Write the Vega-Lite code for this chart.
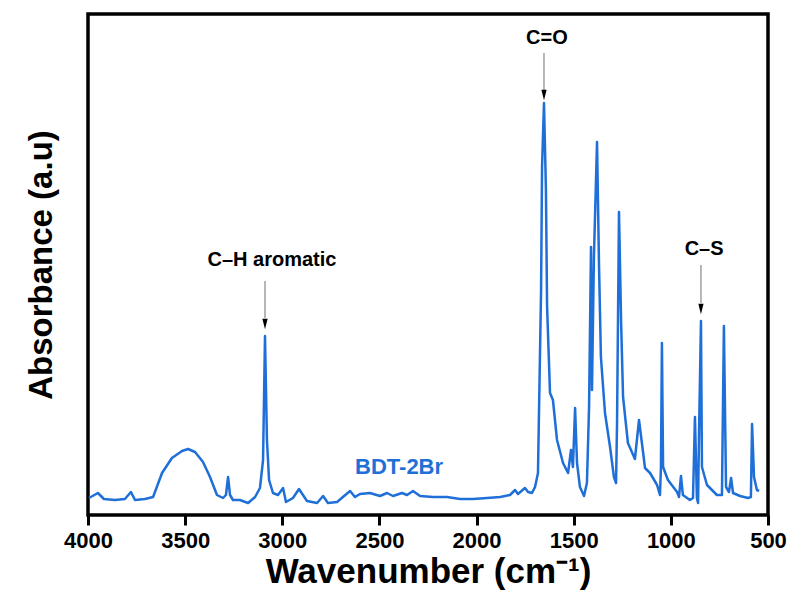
{
  "$schema": "https://vega.github.io/schema/vega-lite/v6.json",
  "autosize": {"type": "none"},
  "padding": {"left": 88, "top": 14, "right": 26, "bottom": 88},
  "width": 680,
  "height": 501,
  "background": "white",
  "config": {
    "view": {"stroke": "black", "strokeWidth": 3.5},
    "font": "Liberation Sans",
    "axisX": {"ticks": true, "tickSize": 10, "tickWidth": 3, "tickColor": "black", "domain": false, "grid": false},
    "axisY": {"ticks": false, "labels": false, "domain": false, "grid": false}
  },
  "datasets": {
    "spectrum": [
      {"wn": 3995, "ab": 17}, {"wn": 3949, "ab": 22}, {"wn": 3918, "ab": 16}, {"wn": 3861, "ab": 15},
      {"wn": 3810, "ab": 16}, {"wn": 3779, "ab": 23}, {"wn": 3758, "ab": 15}, {"wn": 3707, "ab": 16},
      {"wn": 3665, "ab": 18}, {"wn": 3619, "ab": 42}, {"wn": 3568, "ab": 57}, {"wn": 3516, "ab": 64},
      {"wn": 3485, "ab": 66}, {"wn": 3449, "ab": 63}, {"wn": 3408, "ab": 53}, {"wn": 3372, "ab": 38},
      {"wn": 3336, "ab": 20}, {"wn": 3305, "ab": 17}, {"wn": 3290, "ab": 20}, {"wn": 3279, "ab": 38},
      {"wn": 3269, "ab": 20}, {"wn": 3254, "ab": 15}, {"wn": 3218, "ab": 15}, {"wn": 3176, "ab": 12},
      {"wn": 3140, "ab": 18}, {"wn": 3115, "ab": 27}, {"wn": 3099, "ab": 55}, {"wn": 3089, "ab": 179},
      {"wn": 3079, "ab": 75}, {"wn": 3068, "ab": 35}, {"wn": 3048, "ab": 22}, {"wn": 3022, "ab": 20},
      {"wn": 2996, "ab": 27}, {"wn": 2981, "ab": 13}, {"wn": 2945, "ab": 17}, {"wn": 2914, "ab": 26},
      {"wn": 2873, "ab": 14}, {"wn": 2821, "ab": 12}, {"wn": 2790, "ab": 19}, {"wn": 2765, "ab": 12},
      {"wn": 2718, "ab": 13}, {"wn": 2688, "ab": 18}, {"wn": 2651, "ab": 24}, {"wn": 2626, "ab": 18},
      {"wn": 2600, "ab": 21}, {"wn": 2549, "ab": 22}, {"wn": 2497, "ab": 19}, {"wn": 2461, "ab": 22},
      {"wn": 2430, "ab": 19}, {"wn": 2384, "ab": 22}, {"wn": 2358, "ab": 20}, {"wn": 2327, "ab": 24},
      {"wn": 2291, "ab": 19}, {"wn": 2224, "ab": 18}, {"wn": 2152, "ab": 18}, {"wn": 2085, "ab": 16},
      {"wn": 2018, "ab": 16}, {"wn": 1946, "ab": 17}, {"wn": 1879, "ab": 18}, {"wn": 1828, "ab": 20},
      {"wn": 1802, "ab": 25}, {"wn": 1787, "ab": 21}, {"wn": 1751, "ab": 27}, {"wn": 1735, "ab": 23},
      {"wn": 1715, "ab": 22}, {"wn": 1699, "ab": 28}, {"wn": 1684, "ab": 42}, {"wn": 1668, "ab": 225},
      {"wn": 1663, "ab": 348}, {"wn": 1653, "ab": 412}, {"wn": 1643, "ab": 325}, {"wn": 1637, "ab": 208},
      {"wn": 1622, "ab": 122}, {"wn": 1607, "ab": 115}, {"wn": 1586, "ab": 75}, {"wn": 1555, "ab": 52},
      {"wn": 1529, "ab": 42}, {"wn": 1514, "ab": 65}, {"wn": 1504, "ab": 48}, {"wn": 1493, "ab": 107},
      {"wn": 1483, "ab": 52}, {"wn": 1468, "ab": 28}, {"wn": 1447, "ab": 19}, {"wn": 1432, "ab": 32},
      {"wn": 1421, "ab": 108}, {"wn": 1411, "ab": 268}, {"wn": 1406, "ab": 125}, {"wn": 1396, "ab": 258},
      {"wn": 1380, "ab": 373}, {"wn": 1370, "ab": 252}, {"wn": 1360, "ab": 158}, {"wn": 1339, "ab": 102},
      {"wn": 1313, "ab": 68}, {"wn": 1293, "ab": 38}, {"wn": 1282, "ab": 32}, {"wn": 1277, "ab": 92},
      {"wn": 1267, "ab": 303}, {"wn": 1256, "ab": 192}, {"wn": 1246, "ab": 118}, {"wn": 1221, "ab": 72},
      {"wn": 1185, "ab": 56}, {"wn": 1164, "ab": 95}, {"wn": 1149, "ab": 72}, {"wn": 1133, "ab": 47},
      {"wn": 1107, "ab": 42}, {"wn": 1071, "ab": 30}, {"wn": 1056, "ab": 20}, {"wn": 1051, "ab": 48},
      {"wn": 1046, "ab": 172}, {"wn": 1040, "ab": 48}, {"wn": 1015, "ab": 35}, {"wn": 968, "ab": 23},
      {"wn": 958, "ab": 18}, {"wn": 948, "ab": 39}, {"wn": 938, "ab": 20}, {"wn": 902, "ab": 15},
      {"wn": 886, "ab": 17}, {"wn": 876, "ab": 98}, {"wn": 866, "ab": 17}, {"wn": 860, "ab": 12},
      {"wn": 855, "ab": 82}, {"wn": 845, "ab": 194}, {"wn": 840, "ab": 48}, {"wn": 814, "ab": 30},
      {"wn": 763, "ab": 20}, {"wn": 737, "ab": 20}, {"wn": 727, "ab": 189}, {"wn": 716, "ab": 28},
      {"wn": 701, "ab": 23}, {"wn": 690, "ab": 37}, {"wn": 680, "ab": 22}, {"wn": 644, "ab": 19},
      {"wn": 603, "ab": 17}, {"wn": 588, "ab": 18}, {"wn": 582, "ab": 91}, {"wn": 572, "ab": 38},
      {"wn": 557, "ab": 25}, {"wn": 546, "ab": 24}
    ],
    "labels": [
      {"label": "C=O", "wn": 1638, "ab": 477},
      {"label": "C–H aromatic", "wn": 3053, "ab": 255},
      {"label": "C–S", "wn": 829, "ab": 266}
    ],
    "arrows": [
      {"wn": 1653, "ab": 462, "bottom": 425, "head": 420},
      {"wn": 3089, "ab": 234, "bottom": 197, "head": 191},
      {"wn": 845, "ab": 250, "bottom": 212, "head": 206}
    ],
    "series": [
      {"label": "BDT-2Br", "wn": 2399, "ab": 48}
    ]
  },
  "encoding": {
    "x": {
      "field": "wn", "type": "quantitative",
      "scale": {"domain": [4000, 500], "nice": false, "zero": false},
      "axis": {
        "title": "Wavenumber (cm⁻¹)",
        "values": [4000, 3500, 3000, 2500, 2000, 1500, 1000, 500],
        "format": "d",
        "domain": false,
        "grid": false,
        "ticks": true, "tickSize": 10, "tickWidth": 3, "tickColor": "black", "tickOpacity": 1,
        "labelFont": "Liberation Sans", "labelFontSize": 22, "labelFontWeight": "bold", "labelColor": "black",
        "labelPadding": 5, "labelFlush": false,
        "titleFont": "Liberation Sans", "titleFontSize": 35, "titleFontWeight": "bold", "titleColor": "black",
        "titlePadding": 3
      }
    },
    "y": {
      "field": "ab", "type": "quantitative",
      "scale": {"domain": [0, 501], "nice": false},
      "axis": {
        "title": "Absorbance (a.u)",
        "labels": false, "ticks": false, "domain": false, "grid": false,
        "titleFont": "Liberation Sans", "titleFontSize": 33, "titleFontWeight": "bold", "titleColor": "black",
        "titlePadding": 30
      }
    }
  },
  "layer": [
    {
      "data": {"name": "spectrum"},
      "mark": {"type": "line", "color": "#1f6fd8", "strokeWidth": 2.5, "strokeJoin": "round"}
    },
    {
      "data": {"name": "arrows"},
      "mark": {"type": "rule", "color": "#888888", "strokeWidth": 1.2},
      "encoding": {
        "y2": {"field": "bottom"}
      }
    },
    {
      "data": {"name": "arrows"},
      "mark": {"type": "point", "shape": "M-0.5,-1L0.5,-1L0,1Z", "filled": true, "color": "black", "size": 110, "opacity": 1},
      "encoding": {
        "y": {"field": "head", "type": "quantitative"}
      }
    },
    {
      "data": {"name": "labels"},
      "mark": {"type": "text", "font": "Liberation Sans", "fontSize": 20, "fontWeight": "bold", "color": "black", "baseline": "middle", "align": "center"},
      "encoding": {
        "text": {"field": "label"}
      }
    },
    {
      "data": {"name": "series"},
      "mark": {"type": "text", "font": "Liberation Sans", "fontSize": 22, "fontWeight": "bold", "color": "#1f6fd8", "baseline": "middle", "align": "center"},
      "encoding": {
        "text": {"field": "label"}
      }
    }
  ]
}
